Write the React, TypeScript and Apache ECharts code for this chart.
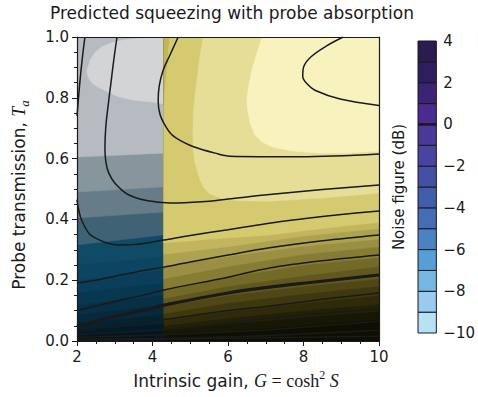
import React, { useEffect, useRef } from 'react';
import * as echarts from 'echarts';

// ---------- axes ----------
const gainRange = [2, 10];
const transRange = [0, 1];

// ---------- filled bands, left part (G 2 – 4.3): lower edge of each "lighter than" region ----------
const leftEdges: number[][][] = [
  [[2, 0], [4.3, 0]],
  [[2, 0.02], [4.3, 0.033]],
  [[2, 0.036], [4.3, 0.056]],
  [[2, 0.059], [4.3, 0.086]],
  [[2, 0.086], [4.3, 0.118]],
  [[2, 0.118], [4.3, 0.151]],
  [[2, 0.158], [4.3, 0.191]],
  [[2, 0.2], [4.3, 0.234]],
  [[2, 0.25], [4.3, 0.276]],
  [[2, 0.316], [4.3, 0.349]],
  [[2, 0.405], [4.3, 0.424]],
  [[2, 0.49], [4.3, 0.507]],
  [[2, 0.605], [4.3, 0.618]],
];
const leftColors = [
  '#021520', '#031b28', '#042232', '#06293c', '#073046', '#083750', '#0a3e5a',
  '#0c4562', '#0f4a66', '#3f6275', '#667d89', '#87959c', '#b5bbc0',
];
const ellipse: number[][] = [
  [2.26, 0.888], [2.35, 0.925], [2.48, 0.95], [2.65, 0.967], [2.82, 0.977], [3.05, 0.986],
  [3.27, 0.991], [3.6, 0.995], [3.88, 0.997], [4.3, 0.998], [4.3, 0.78], [3.99, 0.786],
  [3.65, 0.79], [3.35, 0.796], [3.05, 0.806], [2.82, 0.819], [2.6, 0.832], [2.4, 0.848], [2.3, 0.866],
];
const ellipseColor = '#d3d4d6';

// ---------- filled bands, right part (G 4.3 – 10) ----------
const rightEdges: number[][][] = [
  [[4.3, 0], [10, 0]],
  [[4.3, 0.02], [6, 0.032], [8, 0.05], [10, 0.07]],
  [[4.3, 0.035], [6, 0.055], [8, 0.078], [10, 0.097]],
  [[4.3, 0.05], [6, 0.075], [8, 0.1], [10, 0.12]],
  [[4.3, 0.068], [6, 0.098], [8, 0.125], [10, 0.15]],
  [[4.3, 0.09], [6, 0.125], [8, 0.155], [10, 0.18]],
  [[4.3, 0.115], [6, 0.15], [8, 0.18], [10, 0.205]],
  [[4.3, 0.14], [6, 0.18], [8, 0.215], [10, 0.245]],
  [[4.3, 0.17], [6, 0.21], [8, 0.25], [10, 0.275]],
  [[4.3, 0.205], [6, 0.245], [8, 0.285], [10, 0.31]],
  [[4.3, 0.245], [6, 0.278], [8, 0.312], [10, 0.335]],
  [[4.3, 0.285], [6, 0.31], [8, 0.345], [10, 0.37]],
  [[4.46, 1], [4.4, 0.92], [4.35, 0.85], [4.3, 0.77], [4.3, 0.322], [5.5, 0.335], [7.1, 0.349], [8.5, 0.37], [10, 0.391]],
  [[5.34, 1], [5.25, 0.93], [5.18, 0.86], [5.12, 0.8], [5.08, 0.75], [5.07, 0.683], [5.08, 0.628], [5.12, 0.59],
   [5.18, 0.562], [5.26, 0.53], [5.36, 0.504], [5.5, 0.486], [5.71, 0.474], [5.95, 0.466], [6.24, 0.461],
   [7.11, 0.46], [8.5, 0.47], [10, 0.487]],
  [[6.9, 1], [6.75, 0.94], [6.63, 0.89], [6.55, 0.84], [6.5, 0.8], [6.52, 0.76], [6.58, 0.72], [6.7, 0.68],
   [6.9, 0.655], [7.2, 0.637], [7.7, 0.625], [8.44, 0.618], [9.2, 0.619], [10, 0.624]],
];
const rightColors = [
  '#0f0e03', '#181604', '#222006', '#2f2b0a', '#3e380e', '#4f4715', '#61581e', '#746a28',
  '#877c34', '#9a8f42', '#ada24f', '#c2b55e', '#d6ca70', '#e6dd96', '#f8f2be',
];

// ---------- contour lines ----------
const contourLines: number[][][] = [
  [[2.21, 1], [2.15, 0.94], [2.09, 0.87], [2.04, 0.8], [2.0, 0.74]],
  [[3.06, 1], [2.98, 0.93], [2.9, 0.85], [2.82, 0.77], [2.76, 0.7], [2.74, 0.63], [2.77, 0.585], [2.84, 0.553],
   [3.0, 0.52], [3.35, 0.482], [3.88, 0.461], [4.46, 0.454], [5.3, 0.458], [6.0, 0.467], [7.1, 0.482], [8.5, 0.498], [10, 0.513]],
  [[4.68, 1], [4.46, 0.94], [4.28, 0.89], [4.18, 0.84], [4.15, 0.79], [4.2, 0.745], [4.33, 0.71], [4.5, 0.68],
   [4.73, 0.66], [5.07, 0.64], [5.66, 0.618], [6.05, 0.608], [7.9, 0.606], [10, 0.615]],
  [[9.05, 1], [8.6, 0.97], [8.2, 0.935], [8.0, 0.9], [7.98, 0.87], [8.1, 0.845], [8.3, 0.825], [8.97, 0.796], [10, 0.775]],
  [[2.0, 0.465], [2.03, 0.44], [2.1, 0.405], [2.21, 0.375], [2.33, 0.352], [2.48, 0.339], [2.75, 0.324], [3.09, 0.316],
   [3.6, 0.318], [4.3, 0.332], [5.0, 0.347], [6.0, 0.366], [7.0, 0.386], [8.0, 0.402], [9.0, 0.416], [10, 0.428]],
  [[2, 0.191], [2.5, 0.2], [3.0, 0.213], [3.6, 0.228], [4.3, 0.243], [5.0, 0.26], [6.0, 0.283], [7.1, 0.307], [8.5, 0.33], [10, 0.349]],
  [[2, 0.1], [3, 0.13], [3.9, 0.155], [4.3, 0.168], [6, 0.21], [7.1, 0.24], [8.5, 0.264], [10, 0.283]],
  [[2, 0.049], [3, 0.08], [3.9, 0.105], [4.3, 0.118], [6, 0.158], [7.1, 0.177], [8, 0.19], [10, 0.217]],
  [[2, 0.03], [3, 0.05], [4.2, 0.069], [6, 0.1], [7.1, 0.115], [8.5, 0.137], [10, 0.158]],
  [[2, 0.02], [4.2, 0.036], [6, 0.058], [7.1, 0.076], [10, 0.105]],
  [[2, 0.012], [4.2, 0.02], [6, 0.03], [7.1, 0.037], [10, 0.065]],
  [[2, 0.006], [6, 0.013], [10, 0.035]],
  [[2, 0.002], [10, 0.016]],
];
const contourWidths = [1.5, 1.5, 1.5, 1.5, 1.5, 1.5, 1.5, 3.2, 1.5, 1.5, 1.5, 1.5, 1.5];

// ---------- colorbar ----------
const noiseLevels = [-10, -9, -8, -7, -6, -5, -4, -3, -2, -1, 0, 1, 2, 3, 4];
const noiseColors = [
  '#b9e1f6', '#98cbed', '#78b7e3', '#559ed6', '#4b82c4', '#446db5', '#425dac',
  '#4450a6', '#4844a0', '#4b3898', '#4b2b8f', '#3b2474', '#2f1e5e', '#2b1b4f',
];

const FONT = "'DejaVu Sans', sans-serif";
const MATH = "'Liberation Serif', 'DejaVu Serif', serif";
const INK = '#1a1a1a';

export default function App() {
  const ref = useRef<HTMLDivElement>(null);
  useEffect(() => {
    document.body.style.margin = '0';
    const chart = echarts.init(ref.current!, null, { renderer: 'svg' });

    const closeUp = (pts: number[][]) => [
      ...pts,
      [pts[pts.length - 1][0], transRange[1]],
      [pts[0][0], transRange[1]],
    ];
    const fills = [...leftEdges.map(closeUp), ellipse, ...rightEdges.map(closeUp)];
    const fillColors = [...leftColors, ellipseColor, ...rightColors];

    const lineSeries = contourLines.map((pts, i) => ({
      type: 'line',
      xAxisIndex: 0,
      yAxisIndex: 0,
      data: pts,
      smooth: 0.35,
      symbol: 'none',
      showSymbol: false,
      silent: true,
      clip: true,
      z: 5,
      lineStyle: { color: INK, width: contourWidths[i] },
    }));

    const axisTxt = { fontSize: 15, color: INK, fontFamily: FONT };
    const minus = (v: number) => (v < 0 ? '\u2212' + String(-v) : String(v));

    chart.setOption({
      animation: false,
      backgroundColor: '#ffffff',
      title: {
        text: 'Predicted squeezing with probe absorption',
        left: 45,
        top: -1,
        textStyle: { fontSize: 17, fontWeight: 'normal', color: INK, fontFamily: FONT },
      },
      grid: [
        { left: 77, top: 37, width: 302, height: 304, show: false },
        { left: 418, top: 41, width: 23, height: 292, show: false },
      ],
      xAxis: [
        {
          gridIndex: 0, type: 'value', min: gainRange[0], max: gainRange[1], interval: 2, position: 'bottom', z: 10,
          axisLine: { show: true, onZero: false, lineStyle: { color: INK, width: 1.2 } },
          axisTick: { show: true, length: 5, lineStyle: { color: INK, width: 1 } },
          minorTick: { show: true, splitNumber: 4, length: 3, lineStyle: { color: INK, width: 1 } },
          splitLine: { show: false },
          axisLabel: { ...axisTxt, margin: 8 },
          name: '{n|Intrinsic gain, }{i|G}{m| = cosh}{sup|2}{m| }{i|S}',
          nameLocation: 'middle',
          nameGap: 26,
          nameTextStyle: {
            padding: [0, 0, 0, 16],
            rich: {
              n: { fontSize: 17, fontFamily: FONT, color: INK, lineHeight: 24 },
              i: { fontSize: 18, fontFamily: MATH, fontStyle: 'italic', color: INK, lineHeight: 24 },
              m: { fontSize: 18, fontFamily: MATH, color: INK, lineHeight: 24 },
              sup: { fontSize: 12, fontFamily: MATH, color: INK, verticalAlign: 'top', lineHeight: 24 },
            },
          },
        },
        {
          gridIndex: 0, type: 'value', min: gainRange[0], max: gainRange[1], position: 'top', z: 10,
          axisLine: { show: true, onZero: false, lineStyle: { color: INK, width: 1.2 } },
          axisTick: { show: false }, axisLabel: { show: false }, splitLine: { show: false },
        },
        { gridIndex: 1, type: 'value', min: 0, max: 1, show: false },
      ],
      yAxis: [
        {
          gridIndex: 0, type: 'value', min: transRange[0], max: transRange[1], interval: 0.2, position: 'left', z: 10,
          axisLine: { show: true, onZero: false, lineStyle: { color: INK, width: 1.2 } },
          axisTick: { show: true, length: 5, lineStyle: { color: INK, width: 1 } },
          minorTick: { show: true, splitNumber: 4, length: 3, lineStyle: { color: INK, width: 1 } },
          splitLine: { show: false },
          axisLabel: { ...axisTxt, margin: 8, formatter: (v: number) => v.toFixed(1) },
          name: '{n|Probe transmission, }{i|T}{sub|a}',
          nameLocation: 'middle',
          nameRotate: 90,
          nameGap: 46,
          nameTextStyle: {
            padding: [0, 12, 0, 0],
            rich: {
              n: { fontSize: 17, fontFamily: FONT, color: INK, lineHeight: 24 },
              i: { fontSize: 18, fontFamily: MATH, fontStyle: 'italic', color: INK, lineHeight: 24 },
              sub: { fontSize: 13, fontFamily: MATH, fontStyle: 'italic', color: INK, verticalAlign: 'bottom', lineHeight: 24 },
            },
          },
        },
        {
          gridIndex: 0, type: 'value', min: transRange[0], max: transRange[1], position: 'right', z: 10,
          axisLine: { show: true, onZero: false, lineStyle: { color: INK, width: 1.2 } },
          axisTick: { show: false }, axisLabel: { show: false }, splitLine: { show: false },
        },
        {
          gridIndex: 1, type: 'value', min: -10, max: 4, interval: 2, position: 'right',
          axisLine: { show: false }, axisTick: { show: false }, splitLine: { show: false },
          axisLabel: { ...axisTxt, margin: 7, formatter: minus },
        },
        {
          gridIndex: 1, type: 'value', min: -10, max: 4, position: 'left',
          axisLine: { show: false }, axisTick: { show: false }, splitLine: { show: false }, axisLabel: { show: false },
          name: 'Noise figure (dB)', nameLocation: 'middle', nameRotate: 90, nameGap: 12,
          nameTextStyle: { ...axisTxt },
        },
      ],
      series: [
        {
          type: 'custom',
          xAxisIndex: 0,
          yAxisIndex: 0,
          clip: true,
          silent: true,
          z: 1,
          data: fills.map((p) => [p[0][0], p[0][1]]),
          renderItem: (params: any, api: any) => {
            const pts = fills[params.dataIndex].map((p) => api.coord(p));
            return {
              type: 'polygon',
              shape: { points: pts },
              style: { fill: fillColors[params.dataIndex], stroke: fillColors[params.dataIndex], lineWidth: 0.5 },
            };
          },
        },
        ...lineSeries,
        {
          type: 'custom',
          xAxisIndex: 2,
          yAxisIndex: 2,
          silent: true,
          data: noiseLevels.slice(0, -1).map((v) => [0.5, v]),
          renderItem: (params: any, api: any) => {
            const i = params.dataIndex;
            const a = api.coord([0, noiseLevels[i + 1]]);
            const b = api.coord([1, noiseLevels[i]]);
            const children: any[] = [
              {
                type: 'rect',
                shape: { x: a[0], y: a[1], width: b[0] - a[0], height: b[1] - a[1] },
                style: { fill: noiseColors[i], stroke: INK, lineWidth: 1 },
              },
            ];
            if (noiseLevels[i] === 0) {
              children.push({
                type: 'line',
                shape: { x1: a[0], y1: b[1], x2: b[0], y2: b[1] },
                style: { stroke: INK, lineWidth: 2.5 },
              });
            }
            return { type: 'group', children };
          },
        },
      ],
    });
    return () => chart.dispose();
  }, []);
  return <div ref={ref} style={{ width: 478, height: 397 }} />;
}
